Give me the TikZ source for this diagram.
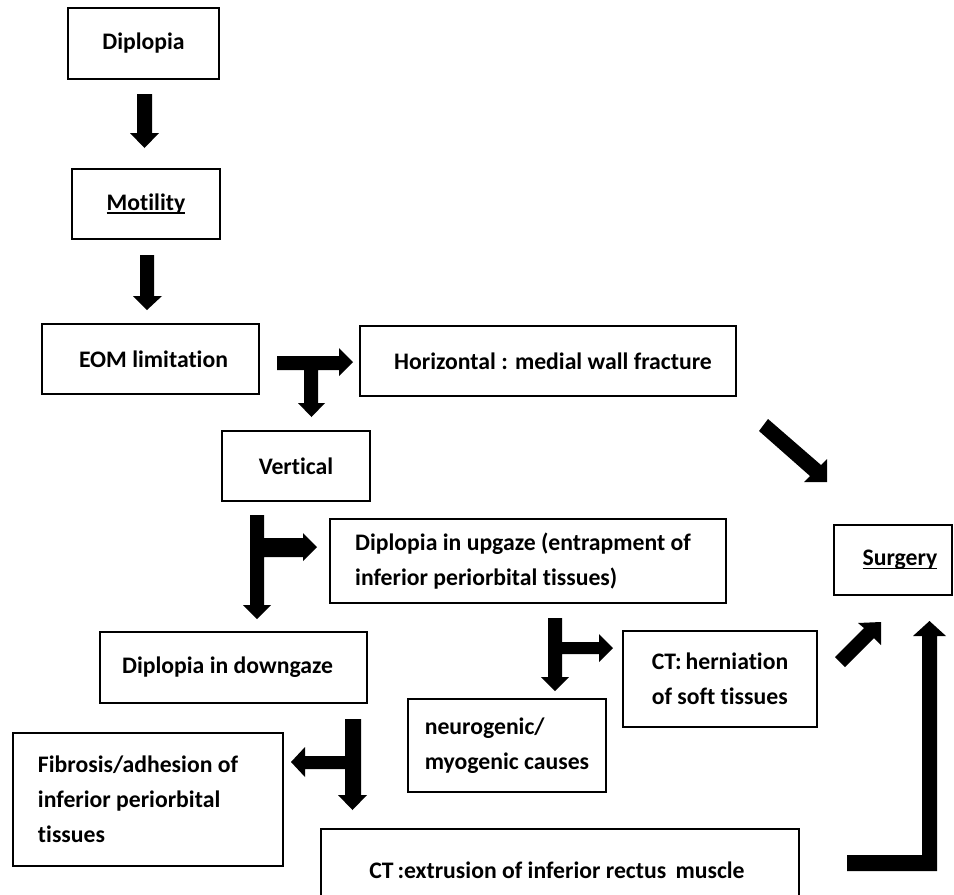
\documentclass[tikz,border=0pt]{standalone}
\usepackage{fontspec}
\setmainfont{Carlito}[Ligatures=NoCommon,RawFeature=-liga]
\newcommand\myul[1]{\setbox0\hbox{#1}\rlap{\rule[-1.6pt]{\wd0}{0.6pt}}#1}
\begin{document}
\begin{tikzpicture}[x=0.5pt,y=-0.5pt,
  box/.style={draw, line width=1.3pt, inner sep=0pt, align=left,
    font=\fontsize{11.85pt}{17.5pt}\selectfont\bfseries},
  blockarrow/.style={fill=black}]
\useasboundingbox (0,0) rectangle (954,895);
\clip (0,0) rectangle (954,895);
% boxes
\node[box, minimum width=75.5pt, minimum height=35.5pt] (dip) at (143.5,43.5) {Diplopia};
\node[box, minimum width=74pt, minimum height=35pt] (mot) at (146,204) {\myul{Motility}};
\node[box, minimum width=108.5pt, minimum height=35pt] (eom) at (150.5,359) {\hspace{3pt}EOM limitation};
\node[box, minimum width=188pt, minimum height=35pt] (hor) at (548,361) {\hspace{5pt}Horizontal : medial wall fracture};
\node[box, minimum width=74pt, minimum height=35pt] (ver) at (296,466) {Vertical};
\node[box, minimum width=198pt, minimum height=42pt] (up) at (528,561) {Diplopia in upgaze (entrapment of\hspace*{5pt}\\inferior periorbital tissues)};
\node[box, minimum width=59pt, minimum height=35pt] (sur) at (893,560) {\hspace{7pt}\myul{Surgery}};
\node[box, minimum width=133.5pt, minimum height=35.5pt] (down) at (233.5,667.5) {Diplopia in downgaze\hspace{6pt}};
\node[box, minimum width=97pt, minimum height=48pt] (hern) at (720,679) {CT:\,herniation\\of soft tissues};
\node[box, minimum width=99pt, minimum height=46.5pt] (neuro) at (507,745.5) {neurogenic/\\myogenic causes};
\node[box, minimum width=135pt, minimum height=66.5pt] (fib) at (148,799.5) {Fibrosis/adhesion of\hspace*{10pt}\\inferior periorbital\\tissues};
\node[box, minimum width=239pt, minimum height=41pt] (ext) at (560,870) {CT\,:extrusion of inferior rectus\ \,muscle\hspace{3pt}};
% block arrows
\fill[blockarrow] (137,94) -- (152,94) -- (152,133) -- (159,133) -- (144.5,148) -- (130,133) -- (137,133) -- cycle;
\fill[blockarrow] (140,255) -- (154,255) -- (154,296) -- (162,296) -- (147,310) -- (133,296) -- (140,296) -- cycle;
\fill[blockarrow] (277,356) -- (339,356) -- (339,348) -- (353,362) -- (339,376) -- (339,370) -- (318,370) -- (318,403) -- (325,403) -- (311.5,417) -- (298,403) -- (304,403) -- (304,370) -- (277,370) -- cycle;
\fill[blockarrow] (250,515) -- (264,515) -- (264,538) -- (303,538) -- (303,533) -- (317,547) -- (303,561) -- (303,557) -- (264,557) -- (264,605) -- (271,605) -- (257,619) -- (243,605) -- (250,605) -- cycle;
\fill[blockarrow] (548,618) -- (562,618) -- (562,642) -- (599,642) -- (599,634) -- (613,648) -- (599,662) -- (599,654) -- (562,654) -- (562,677) -- (569,677) -- (555,691) -- (541,677) -- (548,677) -- cycle;
\fill[blockarrow] (345,719) -- (361,719) -- (361,795) -- (367,795) -- (352.5,810) -- (338,795) -- (345,795) -- (345,769) -- (305,769) -- (305,777) -- (291,762) -- (305,747) -- (305,756) -- (345,756) -- cycle;
\fill[blockarrow] (759,431) -- (768,419) -- (821,465) -- (827,459) -- (827,482) -- (804,482) -- (810,476) -- cycle;
\fill[blockarrow] (835,657) -- (864,628) -- (858,623) -- (881,622) -- (881,645) -- (874,638) -- (845,667) -- cycle;
\fill[blockarrow] (847,855) -- (922,855) -- (922,636) -- (913,636) -- (929.5,621) -- (946,636) -- (937,636) -- (937,871) -- (847,871) -- cycle;
\end{tikzpicture}
\end{document}
